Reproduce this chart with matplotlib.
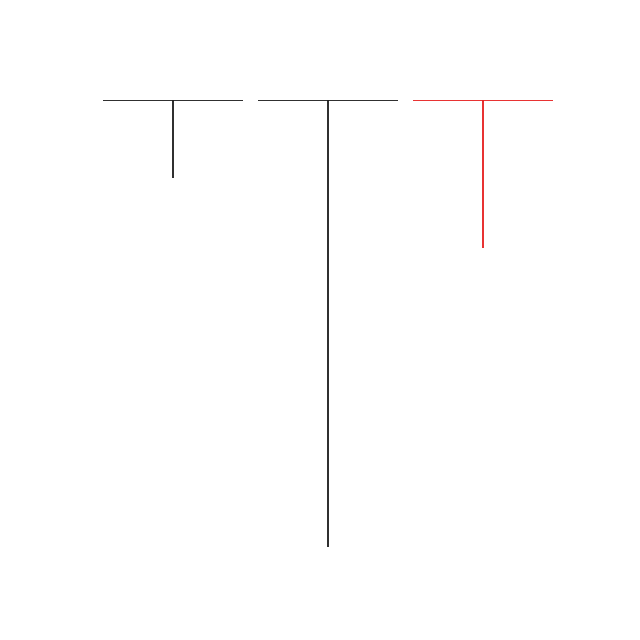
import matplotlib.pyplot as plt

# 세 항목의 값 (위에서 아래로 내려가는 깊이)
labels = ["A", "B", "C"]
values = [1.75, 10.0, 3.3]
colors = ["#1a1a1a", "#1a1a1a", "#e61e1e"]

fig = plt.figure(figsize=(6.4, 6.4), dpi=100)
ax = fig.add_axes([103 / 640, 93 / 640, 450 / 640, 447 / 640])

x = list(range(len(labels)))
half = 0.45
for i, v, c in zip(x, values, colors):
    ax.hlines(0, i - half, i + half, color=c, linewidth=1.3)
    ax.vlines(i, 0, v, color=c, linewidth=1.3)

ax.set_xlim(-half, len(labels) - 1 + half)
ax.set_ylim(10, 0)
ax.axis("off")

fig.savefig("out.png", dpi=100, facecolor="white")
